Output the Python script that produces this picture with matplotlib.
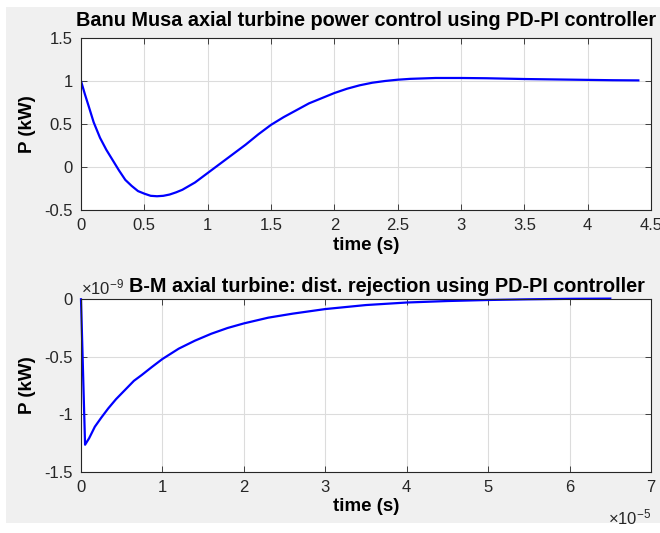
import numpy as np
import matplotlib
matplotlib.use("Agg")
import matplotlib.pyplot as plt
from matplotlib.patches import Rectangle

# --- data ---
t_power = [0.0, 0.03, 0.06, 0.1, 0.15, 0.2, 0.25, 0.3, 0.35, 0.4, 0.45, 0.5, 0.55, 0.6, 0.65,
           0.7, 0.75, 0.8, 0.9, 1.0, 1.1, 1.2, 1.3, 1.4, 1.5, 1.6, 1.7, 1.8, 1.9, 2.0, 2.1,
           2.2, 2.3, 2.4, 2.5, 2.6, 2.7, 2.8, 3.0, 3.2, 3.5, 3.8, 4.0, 4.2, 4.4]
p_power = [1.0, 0.85, 0.71, 0.52, 0.34, 0.20, 0.08, -0.04, -0.15, -0.22, -0.28, -0.31, -0.335,
           -0.34, -0.335, -0.32, -0.295, -0.265, -0.18, -0.07, 0.04, 0.15, 0.26, 0.38, 0.49,
           0.58, 0.66, 0.74, 0.80, 0.86, 0.91, 0.95, 0.98, 1.0, 1.015, 1.025, 1.03, 1.035,
           1.035, 1.032, 1.023, 1.017, 1.013, 1.009, 1.007]

# time in units of 1e-5 s, power in units of 1e-9 kW
t_dist = [0.0, 0.05, 0.1, 0.17, 0.25, 0.335, 0.43, 0.54, 0.65, 0.745, 0.87, 1.0, 1.2, 1.4,
          1.6, 1.8, 2.0, 2.3, 2.6, 3.0, 3.5, 4.0, 4.5, 5.0, 5.5, 6.0, 6.5]
p_dist = [0.0, -1.267, -1.21, -1.11, -1.03, -0.95, -0.87, -0.79, -0.71, -0.66, -0.59, -0.52,
          -0.43, -0.36, -0.30, -0.25, -0.21, -0.16, -0.125, -0.085, -0.05, -0.028, -0.015,
          -0.006, 0.0, 0.004, 0.006]

x1_ticks = [0, 0.5, 1, 1.5, 2, 2.5, 3, 3.5, 4, 4.5]
x1_labels = ['0', '0.5', '1', '1.5', '2', '2.5', '3', '3.5', '4', '4.5']
y1_ticks = [-0.5, 0, 0.5, 1, 1.5]
y1_labels = ['-0.5', '0', '0.5', '1', '1.5']
x2_ticks = [0, 1, 2, 3, 4, 5, 6, 7]
x2_labels = ['0', '1', '2', '3', '4', '5', '6', '7']
y2_ticks = [-1.5, -1, -0.5, 0]
y2_labels = ['-1.5', '-1', '-0.5', '0']

title_top = "Banu Musa axial turbine power control using PD-PI controller"
title_bot = "B-M axial turbine: dist. rejection using PD-PI controller"
xlabel = "time (s)"
ylabel = "P (kW)"
xexp = r"$\times10^{-5}$"
yexp = r"$\times10^{-9}$"

plt.rcParams['font.family'] = ['Liberation Sans', 'DejaVu Sans']
plt.rcParams['mathtext.fontset'] = 'custom'
plt.rcParams['mathtext.rm'] = 'Liberation Sans'
plt.rcParams['mathtext.it'] = 'Liberation Sans'

fig = plt.figure(figsize=(6.6, 5.33), dpi=100, facecolor='white')
fig.patches.append(Rectangle((6/660, 1 - 523/533), 654/660, 516/533,
                             transform=fig.transFigure, facecolor='#f0f0f0',
                             edgecolor='none', zorder=-10))

axcol = '#262626'
gridcol = '#dcdcdc'
TICK = 12
LAB = 13.5
TIT = 14.3

def style(ax):
    ax.set_facecolor('white')
    for s in ax.spines.values():
        s.set_color(axcol)
        s.set_linewidth(0.8)
    ax.tick_params(direction='in', top=True, right=True, length=4, width=0.6,
                   colors=axcol, labelsize=TICK, pad=6)
    ax.grid(True, color=gridcol, linewidth=0.8)
    ax.set_axisbelow(True)

ax1 = fig.add_axes([81/660, 1 - 210/533, 570/660, 172/533])
ax1.plot(t_power, p_power, color='#0000ff', lw=1.6)
ax1.set_xlim(0, 4.5)
ax1.set_ylim(-0.5, 1.5)
ax1.set_xticks(x1_ticks)
ax1.set_xticklabels(x1_labels)
ax1.set_yticks(y1_ticks)
ax1.set_yticklabels(y1_labels)
style(ax1)
ax1.set_title(title_top, fontsize=TIT, fontweight='bold', pad=9)
ax1.set_xlabel(xlabel, fontsize=LAB, fontweight='bold', labelpad=3)
ax1.set_ylabel(ylabel, fontsize=LAB, fontweight='bold', labelpad=6)

ax2 = fig.add_axes([81/660, 1 - 471.5/533, 570/660, 172.2/533])
ax2.plot(t_dist, p_dist, color='#0000ff', lw=1.6, clip_on=False)
ax2.set_xlim(0, 7)
ax2.set_ylim(-1.5, 0)
ax2.set_xticks(x2_ticks)
ax2.set_xticklabels(x2_labels)
ax2.set_yticks(y2_ticks)
ax2.set_yticklabels(y2_labels)
style(ax2)
ax2.set_title(title_bot, fontsize=TIT, fontweight='bold', pad=5, x=0.537)
ax2.set_xlabel(xlabel, fontsize=LAB, fontweight='bold', labelpad=2)
ax2.set_ylabel(ylabel, fontsize=LAB, fontweight='bold', labelpad=6)
ax2.text(0.0, 1.01, yexp, transform=ax2.transAxes, fontsize=12, color=axcol,
         ha='left', va='bottom')
ax2.text(1.0, -0.21, xexp, transform=ax2.transAxes, fontsize=12, color=axcol,
         ha='right', va='top')

fig.savefig('out.png', dpi=100, facecolor=fig.get_facecolor())
